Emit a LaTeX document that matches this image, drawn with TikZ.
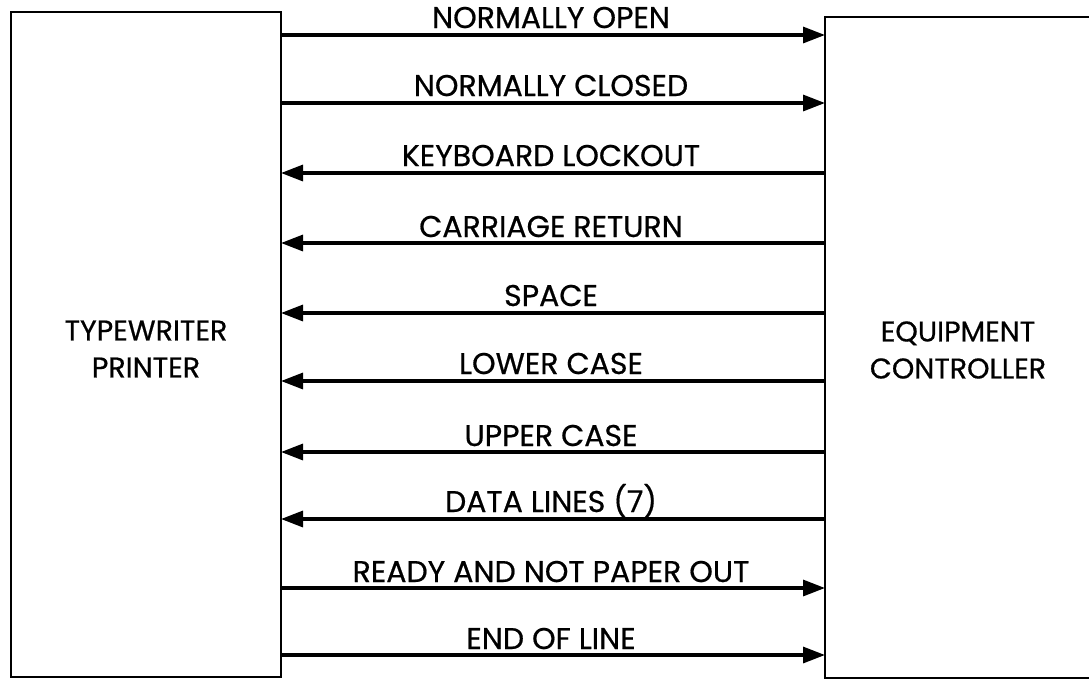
\documentclass[tikz,border=0pt]{standalone}
\usepackage{fontspec}
\setmainfont{Poppins}[FakeBold=0.6]
\usetikzlibrary{arrows.meta}
\begin{document}
\begin{tikzpicture}[x=1pt,y=-1pt,
  box/.style={draw,line width=2.6pt},
  sig/.style={line width=3.2pt,-{Triangle[length=22pt,width=16pt]}},
  lbl/.style={font=\fontsize{30}{34}\selectfont,anchor=base,inner sep=0pt},
  blbl/.style={font=\fontsize{28.5}{37}\selectfont,align=center}]
\useasboundingbox (0,0) rectangle (1089,681);
\begin{scope}
\clip (0,0) rectangle (1089,681);
\draw[box] (11,12) rectangle (281,677);
\draw[box] (825,17) rectangle (1095,678);
\end{scope}
\node[blbl] (tp) at (146,349) {TYPEWRITER\\PRINTER};
\node[blbl] (ec) at (958,350) {EQUIPMENT\\CONTROLLER};
% coordinates at box edges
\foreach \n/\y in {1/35,2/103,3/173,4/243,5/313,6/381,7/452,8/519,9/588,10/655}{
  \coordinate (L\n) at (281,\y);
  \coordinate (R\n) at (825,\y);
}
\draw[sig] (L1) -- (R1);
\draw[sig] (L2) -- (R2);
\draw[sig] (R3) -- (L3);
\draw[sig] (R4) -- (L4);
\draw[sig] (R5) -- (L5);
\draw[sig] (R6) -- (L6);
\draw[sig] (R7) -- (L7);
\draw[sig] (R8) -- (L8);
\draw[sig] (L9) -- (R9);
\draw[sig] (L10) -- (R10);
\node[lbl] (t1) at (551,28) {NORMALLY OPEN};
\node[lbl] (t2) at (551,96) {NORMALLY CLOSED};
\node[lbl] (t3) at (551,166) {KEYBOARD LOCKOUT};
\node[lbl] (t4) at (551,237) {CARRIAGE RETURN};
\node[lbl] (t5) at (551,306) {SPACE};
\node[lbl] (t6) at (551,374) {LOWER CASE};
\node[lbl] (t7) at (551,446) {UPPER CASE};
\node[lbl] (t8) at (551,512) {DATA LINES (7)};
\node[lbl] (t9) at (551,582) {READY AND NOT PAPER OUT};
\node[lbl] (t10) at (551,649) {END OF LINE};
\end{tikzpicture}
\end{document}
